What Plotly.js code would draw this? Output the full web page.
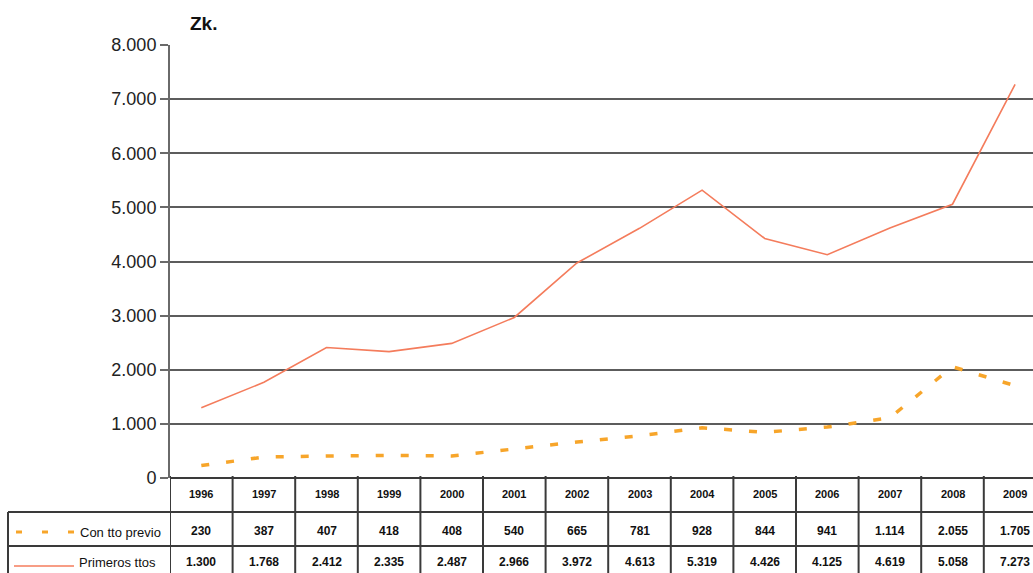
<!DOCTYPE html>
<html><head><meta charset="utf-8">
<script src="https://cdn.plot.ly/plotly-3.0.1.min.js"></script>
<style>html,body{margin:0;padding:0;background:#fff;}#chart{width:1033px;height:573px;}</style>
</head><body><div id="chart"></div>
<script>
const years = ["1996","1997","1998","1999","2000","2001","2002","2003","2004","2005","2006","2007","2008","2009"];
const conTtoPrevio = [230,387,407,418,408,540,665,781,928,844,941,1114,2055,1705];
const primerosTtos = [1300,1768,2412,2335,2487,2966,3972,4613,5319,4426,4125,4619,5058,7273];
const seriesNames = ["Con tto previo","Primeros ttos"];
const yTicks = [0,1000,2000,3000,4000,5000,6000,7000,8000];
const titleText = "Zk.";

const W = 1033, H = 573;
const mL = 170, mR = 0, mT = 45, mB = 95;
const plotW = W - mL - mR, plotH = H - mT - mB;
const colW = 62.6;
const xMax = plotW / colW - 0.5;
const py = p => (H - mB - p) / plotH;     // pixel y -> paper y
const px = p => (p - mL) / plotW;         // pixel x -> paper x
const orange = "#f7a52a", salmon = "#f47c5c", border = "#3a3a3a";
const fmt = v => v.toLocaleString("de-DE");
const xs = years.map((_, i) => i);

const traces = [
  {x: xs, y: conTtoPrevio, name: seriesNames[0], mode: "lines",
   line: {color: orange, width: 3.5, dash: "8px,17px"}, hoverinfo: "y"},
  {x: xs, y: primerosTtos, name: seriesNames[1], mode: "lines",
   line: {color: salmon, width: 1.6}, hoverinfo: "y"}
];

const shapes = [];
const annotations = [];
const rowTop = 478, r1 = 512, r2 = 546, rowBot = 600;
shapes.push({type:"line", xref:"paper", yref:"paper", x0:0, x1:1, y0:py(rowTop), y1:py(rowTop), line:{color:border, width:2}});
[r1, r2].forEach(r => shapes.push({type:"line", xref:"paper", yref:"paper", x0:px(8), x1:1, y0:py(r), y1:py(r), line:{color:border, width:2}}));
shapes.push({type:"line", xref:"paper", yref:"paper", x0:px(8), x1:px(8), y0:py(r1), y1:py(rowBot), line:{color:border, width:2}});
for (let i = 0; i <= years.length; i++) {
  shapes.push({type:"line", xref:"x", yref:"paper", x0:i-0.5, x1:i-0.5, y0:py(rowTop - 2), y1:py(rowBot), line:{color:border, width:2}});
}
shapes.push({type:"line", xref:"paper", yref:"paper", x0:px(16), x1:px(74), y0:py(532), y1:py(532), line:{color:orange, width:3, dash:"6px,20px"}});
shapes.push({type:"line", xref:"paper", yref:"paper", x0:px(14), x1:px(74), y0:py(566), y1:py(566), line:{color:salmon, width:1.4}});

const tf = {family:"'Liberation Sans Narrow', 'Arial Narrow', 'Liberation Sans', Arial, sans-serif", size:12, color:"#111"};
years.forEach((yr, i) => {
  annotations.push({xref:"x", yref:"paper", x:i, y:py(494), text:"<b>"+yr+"</b>", showarrow:false, font:{...tf, size:11}, xanchor:"center", yanchor:"middle"});
  annotations.push({xref:"x", yref:"paper", x:i, y:py(531), text:"<b>"+fmt(conTtoPrevio[i])+"</b>", showarrow:false, font:tf, xanchor:"center", yanchor:"middle"});
  annotations.push({xref:"x", yref:"paper", x:i, y:py(562), text:"<b>"+fmt(primerosTtos[i])+"</b>", showarrow:false, font:tf, xanchor:"center", yanchor:"middle"});
});
annotations.push({xref:"paper", yref:"paper", x:px(163), y:py(532), text:seriesNames[0], showarrow:false, font:{...tf, size:13}, xanchor:"right", yanchor:"middle"});
annotations.push({xref:"paper", yref:"paper", x:px(158), y:py(562), text:seriesNames[1], showarrow:false, font:{...tf, size:13}, xanchor:"right", yanchor:"middle"});

const layout = {
  width: W, height: H,
  margin: {l: mL, r: mR, t: mT, b: mB, pad: 0},
  paper_bgcolor: "#fff", plot_bgcolor: "#fff",
  separators: ",.",
  showlegend: false,
  title: {text: "<b>" + titleText + "</b>", x: 190/W, xanchor: "left", y: 1 - 23/H, yanchor: "middle",
          font: {family: "'Liberation Sans', Arial, sans-serif", size: 19, color: "#111"}},
  xaxis: {range: [-0.5, xMax], showticklabels: false, showgrid: false, zeroline: false,
          showline: false, ticks: "", fixedrange: true},
  yaxis: {range: [0, 8000], tickvals: yTicks, ticktext: yTicks.map(fmt),
          showgrid: true, gridcolor: "#5c5c5c", gridwidth: 2, zeroline: false,
          showline: true, linecolor: "#6a6a6a", linewidth: 2,
          ticks: "outside", ticklen: 8, tickcolor: "#6a6a6a", tickwidth: 2,
          tickfont: {family: "'Liberation Sans', Arial, sans-serif", size: 18, color: "#222"}},
  shapes: shapes,
  annotations: annotations
};

Plotly.newPlot("chart", traces, layout, {staticPlot: true});
</script></body></html>
